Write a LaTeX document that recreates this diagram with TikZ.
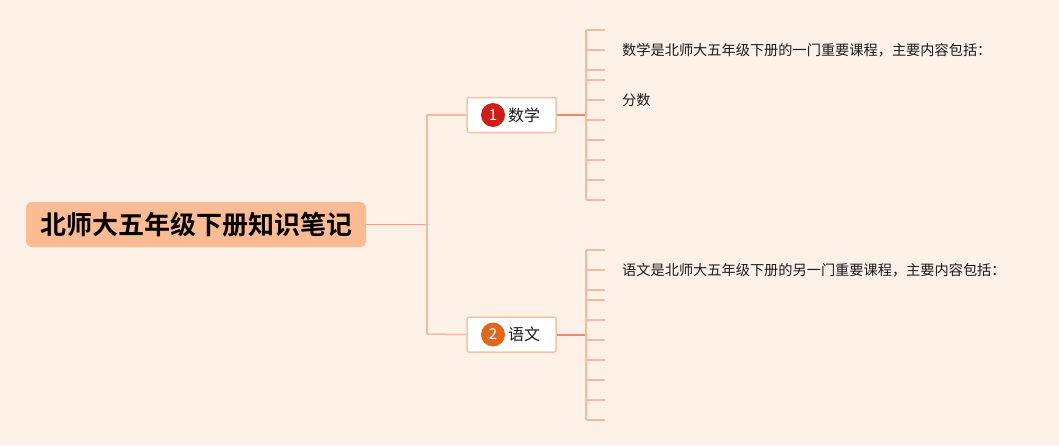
\documentclass[tikz,border=0pt]{standalone}
\usepackage{fontspec}
\setmainfont{Noto Sans CJK SC}
\newfontfamily\cjk{Noto Sans CJK SC}
\newfontfamily\cjkbold{Noto Sans CJK SC Bold}
\definecolor{bg}{HTML}{FEF1E7}
\definecolor{rootfill}{HTML}{FDBB94}
\definecolor{lineLight}{HTML}{F6B9A0}
\definecolor{lineRoot}{HTML}{F5A285}
\definecolor{lineMain}{HTML}{F28A6A}
\definecolor{boxborder}{HTML}{F8C3A4}
\definecolor{badgeA}{HTML}{C9201A}
\definecolor{badgeB}{HTML}{E0661C}
\definecolor{txt}{HTML}{1A1A1A}
\begin{document}
\begin{tikzpicture}[x=1pt,y=-1pt,
  rootbox/.style={fill=rootfill,rounded corners=6pt,minimum width=340pt,minimum height=45pt,inner sep=0pt,font=\cjkbold\fontsize{26pt}{30pt}\selectfont,text=black},
  branchbox/.style={fill=white,draw=boxborder,line width=1.5pt,rounded corners=2pt,minimum width=89pt,minimum height=35pt,inner sep=0pt},
  badge/.style={circle,minimum size=24pt,inner sep=0pt,text=white,font=\cjk\fontsize{15pt}{15pt}\selectfont},
  blabel/.style={inner sep=0pt,anchor=west,font=\cjk\fontsize{16pt}{18pt}\selectfont,text=txt},
  leaf/.style={inner sep=0pt,anchor=west,font=\cjk\fontsize{14.2pt}{16pt}\selectfont,text=txt},
  light/.style={draw=lineLight,line width=1.5pt},
  rootline/.style={draw=lineRoot,line width=1.8pt},
  main/.style={draw=lineMain,line width=2pt}]
\fill[bg] (0,0) rectangle (1059,445);
\useasboundingbox (0,0) rectangle (1059,445);

% root
\node[rootbox] (root) at (196,224.5) {北师大五年级下册知识笔记};
\coordinate (jroot) at (427,224.5);
\coordinate (j1) at (427,115);
\coordinate (j2) at (427,334);

% branches
\node[branchbox] (b1) at (511.5,115) {};
\node[badge,fill=badgeA] (c1) at (493,115) {1};
\node[blabel] (t1) at (508,115) {数学};
\node[branchbox] (b2) at (511.5,334.5) {};
\node[badge,fill=badgeB] (c2) at (493,334.5) {2};
\node[blabel] (t2) at (508,334.5) {语文};

\draw[rootline] (root.east) -- (jroot);
\draw[light] (j1) -- (j2);
\draw[light] (j1) -- (b1.west);
\draw[light] (j2) -- (b2.west);

% branch 1 leaves
\coordinate (k1) at (586,115);
\draw[main] (b1.east) -- (k1);
\draw[light] (586,30) -- (586,200);
\foreach \y in {30,50,70,80,100,120,140,160,180,200}
  \draw[light] (586,\y) -- (605,\y);
\node[leaf] (l1) at (622,50) {数学是北师大五年级下册的一门重要课程，主要内容包括：};
\node[leaf] (l2) at (622,100) {分数};

% branch 2 leaves
\coordinate (k2) at (586,334.5);
\draw[main] (b2.east) -- (k2);
\draw[light] (586,250) -- (586,420);
\foreach \y in {250,270,290,300,320,340,360,380,400,420}
  \draw[light] (586,\y) -- (605,\y);
\node[leaf] (l3) at (622,270) {语文是北师大五年级下册的另一门重要课程，主要内容包括：};
\end{tikzpicture}
\end{document}
